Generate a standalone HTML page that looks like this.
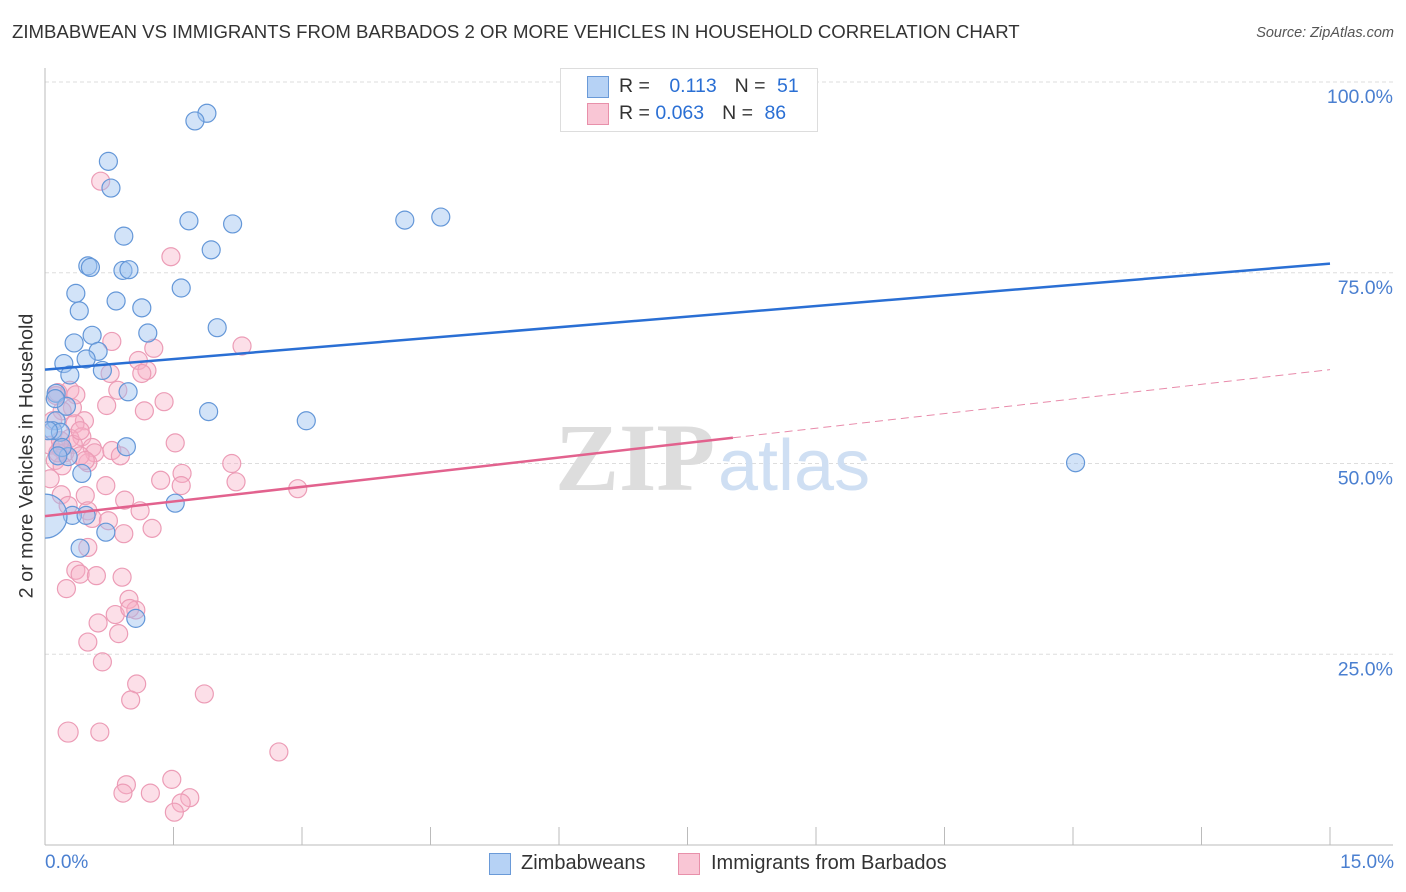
<!DOCTYPE html>
<html><head><meta charset="utf-8">
<style>
body{margin:0;background:#fff;font-family:"Liberation Sans",sans-serif;}
#wrap{position:relative;width:1406px;height:892px;overflow:hidden;}
.t{position:absolute;white-space:nowrap;}
</style></head>
<body>
<div id="wrap">
<div class="t" style="left:12px;top:21px;font-size:18.6px;color:#333;">ZIMBABWEAN VS IMMIGRANTS FROM BARBADOS 2 OR MORE VEHICLES IN HOUSEHOLD CORRELATION CHART</div>
<div class="t" style="right:12px;top:25px;font-size:14.5px;color:#555;font-style:italic;">Source: ZipAtlas.com</div>
<div class="t" style="left:27px;top:456px;font-size:19.8px;color:#333;transform:translate(-50%,-50%) rotate(-90deg);">2 or more Vehicles in Household</div>
<svg id="svg" width="1406" height="892" style="position:absolute;left:0;top:0"></svg>
</div>
<script>
const blueX=[1.89,1.75,0.74,0.77,1.68,2.19,4.20,4.62,0.92,1.94,0.50,0.53,0.91,0.98,0.36,1.59,0.83,0.40,1.13,0.55,1.20,2.01,0.34,0.62,0.22,0.48,0.29,0.67,0.13,0.97,0.25,1.91,3.05,0.13,0.09,0.18,0.95,0.27,12.03,0.43,1.52,0.32,0.48,0.0,0.71,0.41,1.06,0.12,0.04,0.20,0.15];
const blueY=[95.9,94.9,89.6,86.1,81.8,81.4,81.9,82.3,79.8,78.0,75.9,75.7,75.3,75.4,72.3,73.0,71.3,70.0,70.4,66.8,67.1,67.8,65.8,64.7,63.1,63.7,61.6,62.2,59.2,59.4,57.5,56.8,55.6,55.6,54.3,54.1,52.2,50.9,50.1,48.7,44.8,43.2,43.2,43.1,41.0,38.9,29.7,58.5,54.3,52.1,51.0];
const pinkX=[0.65,1.47,0.78,2.30,1.27,1.09,1.19,0.76,0.15,0.29,0.36,0.85,1.39,0.72,1.16,0.32,0.20,0.46,0.35,0.09,0.43,0.29,1.52,0.06,0.18,0.55,0.33,0.23,0.58,0.12,0.50,2.18,1.60,0.41,0.20,1.35,2.23,1.59,0.06,2.95,0.19,0.47,0.71,0.93,0.27,0.50,1.11,0.55,0.92,1.25,0.50,0.36,0.41,0.60,0.90,0.25,0.98,1.06,0.82,0.62,0.86,0.50,0.67,1.07,1.86,1.00,0.27,0.64,2.73,0.95,1.48,0.91,1.23,1.69,1.59,1.51,1.13,0.78,0.15,0.88,0.47,0.18,0.13,0.99,0.41,0.74];
const pinkY=[87.0,77.1,66.0,65.4,65.1,63.5,62.2,61.8,59.3,59.6,59.0,59.6,58.1,57.6,56.9,57.3,56.9,55.6,55.2,55.6,53.5,53.3,52.7,52.4,52.0,52.1,52.5,51.4,51.4,50.4,50.1,50.0,48.7,51.0,49.7,47.8,47.6,47.1,48.0,46.7,45.9,45.8,47.1,45.2,44.5,43.8,43.8,42.8,40.8,41.5,39.0,36.0,35.5,35.3,35.1,33.6,32.2,30.8,30.2,29.1,27.7,26.6,24.0,21.1,19.8,19.0,14.8,14.8,12.2,7.9,8.6,6.8,6.8,6.2,5.5,4.3,61.8,51.7,51.4,51.0,50.4,53.0,58.9,31.0,54.3,42.5];
const blueTrend=[62.3,76.2];
const pinkTrend=[43.1,62.3];
const pinkSolidEnd=8.03;
const yTicks=[25,50,75,100];
const yTickLabels=["25.0%","50.0%","75.0%","100.0%"];

const svg=document.getElementById('svg');
const NS='http://www.w3.org/2000/svg';
const X0=45,X1=1330,Y0=845,Y100=82;
const sx=v=>X0+(X1-X0)*v/15;
const sy=v=>Y0-(Y0-Y100)*v/100;
function mk(tag,attrs,parent){const e=document.createElementNS(NS,tag);for(const k in attrs)e.setAttribute(k,attrs[k]);(parent||svg).appendChild(e);return e;}

const defs=mk('defs',{});
const cp=mk('clipPath',{id:'plotclip'},defs);
mk('rect',{x:X0,y:60,width:1360,height:786},cp);

yTicks.forEach((t,i)=>{
  const g=mk('line',{x1:X0,x2:1393,y1:sy(t),y2:sy(t),stroke:'#ddd','stroke-dasharray':'4,3'});
  
  
  const tx=mk('text',{x:1393,y:sy(t)+21,'text-anchor':'end','font-size':19.5,fill:'#4a7fd0','font-family':'Liberation Sans, sans-serif'});
  tx.textContent=yTickLabels[i];
  
  
});
let a=mk('line',{x1:X0,x2:X0,y1:68,y2:Y0,stroke:'#bbb'});


a=mk('line',{x1:X0,x2:1393,y1:Y0,y2:Y0,stroke:'#bbb'});


for(let i=0;i<=10;i++){const tk=mk('line',{x1:sx(i*1.5),x2:sx(i*1.5),y1:Y0,y2:Y0-18,stroke:'#bbb'});

}
let w=mk('text',{x:555,y:490,'font-size':96,fill:'#ddd','font-family':'Liberation Serif, serif','font-weight':'bold'});w.textContent='ZIP';


w=mk('text',{x:718,y:490,'font-size':72,fill:'#cfdff3','font-family':'Liberation Sans, sans-serif'});w.textContent='atlas';



const g=mk('g',{'clip-path':'url(#plotclip)'});
function pts(xs,ys,fill,stroke,name){xs.forEach((x,i)=>{
  const big=(name==='blue-point'&&x===0&&ys[i]===43.1)?22:(name==='pink-point'&&i===66?10:9);
  const c=mk('circle',{cx:sx(x),cy:sy(ys[i]),r:big,fill:fill,stroke:stroke,'stroke-width':1.2},g);
  
  
});}
pts(pinkX,pinkY,'rgba(248,176,198,0.4)','#ec9cb6','pink-point');
pts(blueX,blueY,'rgba(156,194,240,0.45)','#6497d8','blue-point');

let l=mk('line',{x1:sx(0),y1:sy(blueTrend[0]),x2:sx(15),y2:sy(blueTrend[1]),stroke:'#2a6fd4','stroke-width':2.5});


const py=x=>pinkTrend[0]+(pinkTrend[1]-pinkTrend[0])*x/15;
l=mk('line',{x1:sx(0),y1:sy(py(0)),x2:sx(pinkSolidEnd),y2:sy(py(pinkSolidEnd)),stroke:'#e2628e','stroke-width':2.5});


l=mk('line',{x1:sx(pinkSolidEnd),y1:sy(py(pinkSolidEnd)),x2:sx(15),y2:sy(py(15)),stroke:'#e88aaa','stroke-width':1,'stroke-dasharray':'8,5'});


</script>
<div class="t" style="left:45px;top:852px;font-size:19px;color:#4a7fd0;">0.0%</div>
<div class="t" style="right:12px;top:852px;font-size:19px;color:#4a7fd0;">15.0%</div>
<div style="position:absolute;left:560px;top:68px;width:256px;height:62px;border:1px solid #ddd;background:#fff;font-size:19.5px;">
 <div style="position:absolute;left:26px;top:7px;width:20px;height:20px;background:#b6d2f5;border:1px solid #6a9ad8;"></div>
 <div class="t" style="left:58px;top:6px;color:#333;">R = <span style="color:#2a6fd4;margin-left:14px">0.113</span><span style="margin-left:18px">N = </span><span style="color:#2a6fd4;margin-left:6px">51</span></div>
 <div style="position:absolute;left:26px;top:34px;width:20px;height:20px;background:#f9c6d5;border:1px solid #e890aa;"></div>
 <div class="t" style="left:58px;top:33px;color:#333;">R = <span style="color:#2a6fd4">0.063</span><span style="margin-left:18px">N = </span><span style="color:#2a6fd4;margin-left:6px">86</span></div>
</div>
<div style="position:absolute;left:489px;top:852px;font-size:20px;color:#333;">
 <div style="position:absolute;left:0;top:1px;width:20px;height:20px;background:#b6d2f5;border:1px solid #6a9ad8;"></div>
 <div class="t" style="left:32px;top:0;">Zimbabweans</div>
 <div style="position:absolute;left:189px;top:1px;width:20px;height:20px;background:#f9c6d5;border:1px solid #e890aa;"></div>
 <div class="t" style="left:222px;top:0;">Immigrants from Barbados</div>
</div>
</body></html>
